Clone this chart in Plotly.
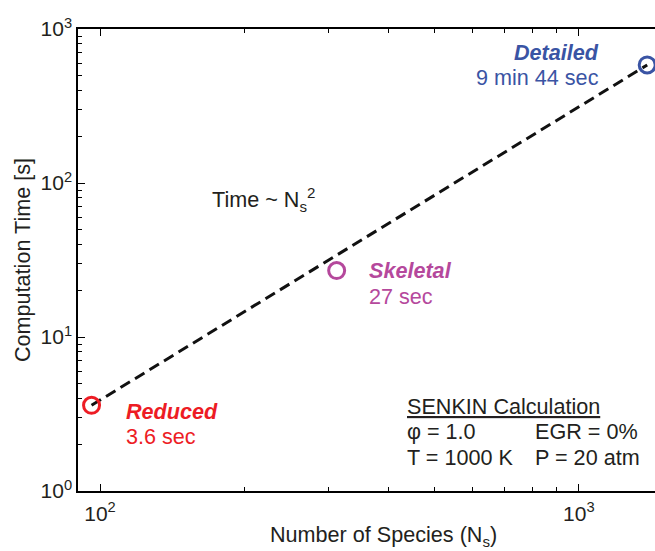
import plotly.graph_objects as go

# Mechanism sizes and SENKIN computation times
mechanisms = ["Reduced", "Skeletal", "Detailed"]
species = [96, 312, 1389]
times_s = [3.6, 27, 584]
time_labels = ["3.6 sec", "27 sec", "9 min 44 sec"]
colors = ["#ed1c24", "#b5489c", "#3a54a4"]

# Axis ticks
x_tickvals = [100, 1000]
x_ticktext = ["10<sup>2</sup>", "10<sup>3</sup>"]
y_tickvals = [1, 10, 100, 1000]
y_ticktext = ["10<sup>0</sup>", "10<sup>1</sup>", "10<sup>2</sup>", "10<sup>3</sup>"]

FONT = "Liberation Sans, Arial, sans-serif"
TXT = "#231f20"
FS = 21.6

fig = go.Figure()

# Scaling trend (Time ~ Ns^2) drawn between the reduced and detailed mechanisms
fig.add_trace(go.Scatter(
    x=[species[0], species[-1]], y=[times_s[0], times_s[-1]],
    mode="lines", line=dict(color="#111111", width=3, dash="11px,6px"),
    showlegend=False, hoverinfo="skip"))

for name, xs, ys, c in zip(mechanisms, species, times_s, colors):
    fig.add_trace(go.Scatter(
        x=[xs], y=[ys], mode="markers", name=name,
        marker=dict(symbol="circle-open", size=16, color=c, line=dict(width=3, color=c)),
        showlegend=False))

minor_vals = [m * 10 ** d for d in range(0, 4) for m in range(2, 10)]

fig.update_xaxes(
    type="log", range=[1.954, 3.159],
    tickmode="array", tickvals=x_tickvals, ticktext=x_ticktext,
    ticks="inside", ticklen=7, tickwidth=1, tickcolor="#000",
    minor=dict(tickvals=minor_vals, ticks="inside", ticklen=4, tickcolor="#000", showgrid=False),
    showline=True, linecolor="#000", linewidth=1.5, mirror="ticks",
    showgrid=False, zeroline=False, ticklabelstandoff=3,
    tickfont=dict(family=FONT, size=21, color=TXT),
)
fig.update_yaxes(
    type="log", range=[0, 3],
    tickmode="array", tickvals=y_tickvals, ticktext=y_ticktext,
    ticks="inside", ticklen=7, tickwidth=1, tickcolor="#000",
    minor=dict(tickvals=minor_vals, ticks="inside", ticklen=4, tickcolor="#000", showgrid=False),
    showline=True, linecolor="#000", linewidth=1.5,
    showgrid=False, zeroline=False,
    tickfont=dict(family=FONT, size=21, color=TXT),
    title=dict(text="Computation Time [s]", font=dict(family=FONT, size=FS, color=TXT), standoff=4),
)

def note(text, x, y, xanchor="left", color=TXT, size=FS):
    fig.add_annotation(text=text, x=x, y=y, xref="paper", yref="paper",
                       xanchor=xanchor, yanchor="middle", showarrow=False,
                       borderpad=0, font=dict(family=FONT, size=size, color=color))

# Horizontal axis title
note("Number of Species (N<sub>s</sub>)", 0.530, -0.097, "center")

# Mechanism labels
note("<b><i>Detailed</i></b>", 0.904, 0.950, "right", colors[2])
note(time_labels[2], 0.904, 0.896, "right", colors[2])
note("<b><i>Skeletal</i></b>", 0.5026, 0.478, "left", colors[1])
note(time_labels[1], 0.5026, 0.422, "left", colors[1])
note("<b><i>Reduced</i></b>", 0.0815, 0.173, "left", colors[0])
note(time_labels[0], 0.0815, 0.117, "left", colors[0])

note("Time ~ N<sub>s</sub><sup>2</sup>", 0.2305, 0.630, "left", TXT)

# Calculation conditions
note("<u>SENKIN Calculation</u>", 0.5685, 0.182, "left", TXT)
note("φ = 1.0", 0.5685, 0.128, "left", TXT)
note("EGR = 0%", 0.790, 0.128, "left", TXT)
note("T = 1000 K", 0.5685, 0.073, "left", TXT)
note("P = 20 atm", 0.790, 0.073, "left", TXT)

fig.update_layout(
    width=655, height=551,
    margin=dict(l=78, r=0, t=29, b=60),
    paper_bgcolor="white", plot_bgcolor="white",
    showlegend=False,
)

fig.write_html("out.html")
